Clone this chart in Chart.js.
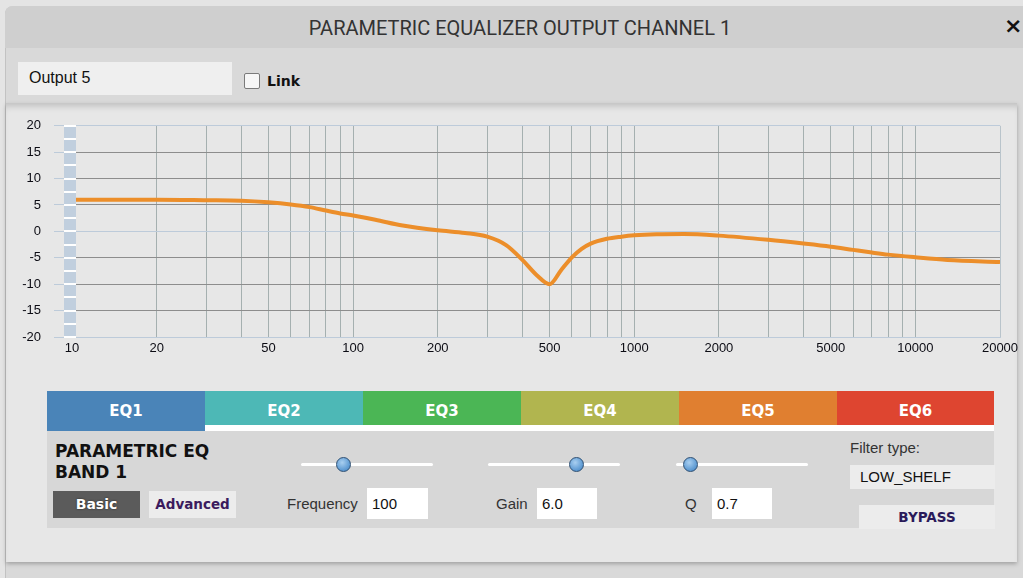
<!DOCTYPE html>
<html>
<head>
<meta charset="utf-8">
<script src="https://cdn.jsdelivr.net/npm/chart.js@4.4.1/dist/chart.umd.min.js"></script>
<style>
  body { margin: 0; width: 1023px; height: 578px; overflow: hidden; position: relative;
         background: #e4e4e4; font-family: "Liberation Sans", Arial, sans-serif; }
  .abs { position: absolute; }
  .bold { font-family: "DejaVu Sans", Verdana, sans-serif; font-weight: bold; }
  .tab { position: absolute; top: 391px; height: 34px; width: 158px; color: #fff; font-size: 15px;
         text-align: center; line-height: 41px; }
  .track { position: absolute; height: 3px; background: #fff; border-radius: 2px; }
  .knob { position: absolute; width: 13px; height: 13px; border-radius: 50%; border: 1px solid #2d4f73;
          background: radial-gradient(circle at 40% 35%, #a9cff0 0%, #6aa3d8 55%, #3f7fbf 100%); }
  .input { position: absolute; background: #fff; height: 31px; line-height: 31px; font-size: 15px;
           color: #111; padding-left: 5px; box-sizing: border-box; }
  .lbl { position: absolute; font-size: 15px; color: #333; }
</style>
</head>
<body>
<!-- window frame -->
<div class="abs" style="left:5px;top:6px;width:1030px;height:580px;background:#d9d9d9;border-radius:8px 0 0 0;border-left:1px solid #c2c2c2;"></div>
<div class="abs" style="left:5px;top:6px;width:1030px;height:42px;background:#cfcfcf;border-radius:8px 0 0 0;"></div>
<div class="abs" style="left:0;top:16px;width:1040px;text-align:center;font-family:Roboto,sans-serif;font-size:20px;color:#333;">PARAMETRIC EQUALIZER OUTPUT CHANNEL 1</div>
<div class="abs bold" style="left:1004px;top:13px;font-size:22px;color:#111;">×</div>

<div class="abs" style="left:18px;top:62px;width:214px;height:33px;background:#efefef;"></div>
<div class="abs" style="left:29px;top:69px;font-size:16px;color:#111;">Output 5</div>
<div class="abs" style="left:244px;top:73px;width:14px;height:14px;background:#f6f6f6;border:1px solid #7a7a7a;border-radius:2px;"></div>
<div class="abs bold" style="left:267px;top:73px;font-size:14px;color:#111;">Link</div>

<!-- main panel -->
<div class="abs" style="left:6px;top:103px;width:1011px;height:459px;background:#e7e7e7;
     box-shadow: inset 0 7px 7px -4px rgba(0,0,0,0.18), 0 2px 4px rgba(0,0,0,0.25);"></div>

<div class="abs" style="left:0;top:105px;width:1023px;height:260px;">
  <canvas id="chart"></canvas>
</div>

<!-- EQ tabs -->
<div class="tab bold" style="left:47px;height:40px;background:#4a84b8;">EQ1</div>
<div class="tab bold" style="left:205px;background:#4db8b6;">EQ2</div>
<div class="tab bold" style="left:363px;background:#4bb655;">EQ3</div>
<div class="tab bold" style="left:521px;background:#b1b54f;">EQ4</div>
<div class="tab bold" style="left:679px;background:#e07f30;">EQ5</div>
<div class="tab bold" style="left:837px;width:157px;background:#de4530;">EQ6</div>
<div class="abs" style="left:205px;top:425px;width:789px;height:6px;background:#fff;"></div>
<div class="abs" style="left:47px;top:431px;width:947px;height:97px;background:#d7d7d7;"></div>

<div class="abs bold" style="left:55px;top:441px;font-size:17px;line-height:21px;color:#111;">PARAMETRIC EQ<br>BAND 1</div>
<div class="abs bold" style="left:53px;top:491px;width:87px;height:27px;background:#5b5b5b;color:#fff;font-size:14px;text-align:center;line-height:27px;text-shadow:0 0 2px #222;">Basic</div>
<div class="abs bold" style="left:149px;top:491px;width:87px;height:27px;background:#ececec;color:#3b1b5e;font-size:13.5px;text-align:center;line-height:27px;">Advanced</div>

<div class="track" style="left:301px;top:463px;width:132px;"></div>
<div class="knob" style="left:336px;top:457px;"></div>
<div class="lbl" style="left:287px;top:495px;">Frequency</div>
<div class="input" style="left:367px;top:488px;width:61px;">100</div>

<div class="track" style="left:488px;top:463px;width:132px;"></div>
<div class="knob" style="left:569px;top:457px;"></div>
<div class="lbl" style="left:496px;top:495px;">Gain</div>
<div class="input" style="left:537px;top:488px;width:60px;">6.0</div>

<div class="track" style="left:676px;top:463px;width:132px;"></div>
<div class="knob" style="left:683px;top:457px;"></div>
<div class="lbl" style="left:685px;top:495px;">Q</div>
<div class="input" style="left:712px;top:488px;width:60px;">0.7</div>

<div class="lbl" style="left:850px;top:439px;">Filter type:</div>
<div class="abs" style="left:850px;top:465px;width:145px;height:24px;background:#ececec;font-size:15px;line-height:24px;color:#111;padding-left:10px;box-sizing:border-box;">LOW_SHELF</div>
<div class="abs bold" style="left:859px;top:505px;width:136px;height:24px;background:#ececec;font-size:13.5px;line-height:25px;color:#2a1a5a;text-align:center;">BYPASS</div>

<script>
// response curve of output channel 1 (Hz -> dB)
const freqHz = [10, 15, 20, 30, 40, 50, 60, 70, 80, 90, 100, 120, 150, 200, 250, 300, 350, 400, 450, 500,
  550, 600, 650, 700, 800, 900, 1000, 1200, 1500, 2000, 3000, 4000, 5000, 6000, 7000, 8000, 10000, 13000, 20000];
const gainDb = [6.0, 6.0, 6.0, 5.9, 5.8, 5.5, 5.1, 4.6, 3.95, 3.4, 3.0, 2.2, 1.1, 0.2, -0.3, -1.0, -2.6, -5.4, -8.3, -10.0,
  -7.3, -4.9, -3.3, -2.3, -1.4, -1.0, -0.75, -0.55, -0.5, -0.8, -1.6, -2.3, -2.9, -3.5, -4.0, -4.4, -4.9, -5.4, -5.8];

// grid lines on the frequency axis, and the ones that get a label
const xGridHz = [10, 20, 30, 40, 50, 60, 70, 80, 90, 100, 200, 300, 400, 500, 600, 700, 800, 900,
  1000, 2000, 3000, 4000, 5000, 6000, 7000, 8000, 9000, 10000, 20000];
const xLabelHz = [10, 20, 50, 100, 200, 500, 1000, 2000, 5000, 10000, 20000];
const yTicksDb = [-20, -15, -10, -5, 0, 5, 10, 15, 20];

const LIGHT_BLUE = "#bdcbda";

// the blue gain strip over the left edge of the plot
const gainStrip = {
  id: "gainStrip",
  afterDatasetsDraw(chart) {
    const { ctx, chartArea } = chart;
    const y = chart.scales.y;
    ctx.save();
    ctx.fillStyle = "#c1cfde";
    ctx.fillRect(chartArea.left - 8, chartArea.top, 12, chartArea.bottom - chartArea.top);
    ctx.strokeStyle = "#ffffff";
    ctx.lineWidth = 2;
    for (let v = -20; v <= 20; v += 2.5) {
      const py = Math.round(y.getPixelForValue(v));
      ctx.beginPath();
      ctx.moveTo(chartArea.left - 8, py);
      ctx.lineTo(chartArea.left + 4, py);
      ctx.stroke();
    }
    ctx.restore();
  },
};

const tickFont = { family: "'Liberation Sans', Arial, sans-serif", size: 13 };

new Chart(document.getElementById("chart"), {
  type: "line",
  data: {
    datasets: [{
      data: freqHz.map((f, i) => ({ x: f, y: gainDb[i] })),
      borderColor: "#ec8e2a",
      borderWidth: 4,
      pointRadius: 0,
      cubicInterpolationMode: "monotone",
      fill: false,
    }],
  },
  plugins: [gainStrip],
  options: {
    responsive: true,
    maintainAspectRatio: false,
    animation: false,
    layout: { padding: { top: 19, right: 23, bottom: 0, left: 0 } },
    plugins: { legend: { display: false }, tooltip: { enabled: false } },
    scales: {
      x: {
        type: "logarithmic",
        min: 10,
        max: 20000,
        afterBuildTicks: (scale) => {
          scale.ticks = xGridHz.map((v) => ({ value: v }));
        },
        afterFit: (scale) => { scale.height = 28; },
        ticks: {
          autoSkip: false,
          maxRotation: 0,
          padding: 4,
          color: "#0c0c14",
          font: tickFont,
          callback: (v) => (xLabelHz.includes(v) ? String(v) : ""),
        },
        grid: {
          drawTicks: false,
          color: (ctx) => (ctx.tick && ctx.tick.value === 20000 ? "#b9c4cb" : "#a5b0b0"),
        },
        border: { display: true, color: LIGHT_BLUE },
      },
      y: {
        min: -20,
        max: 20,
        afterBuildTicks: (scale) => {
          scale.ticks = yTicksDb.map((v) => ({ value: v }));
        },
        afterFit: (scale) => { scale.width = 72; },
        ticks: { padding: 13, color: "#0c0c14", font: tickFont },
        grid: {
          tickLength: 18,
          tickColor: LIGHT_BLUE,
          color: (ctx) => {
            const v = ctx.tick ? ctx.tick.value : 0;
            return v === 0 || Math.abs(v) === 20 ? LIGHT_BLUE : "#8d8d8d";
          },
        },
        border: { display: false },
      },
    },
  },
});
</script>
</body>
</html>
